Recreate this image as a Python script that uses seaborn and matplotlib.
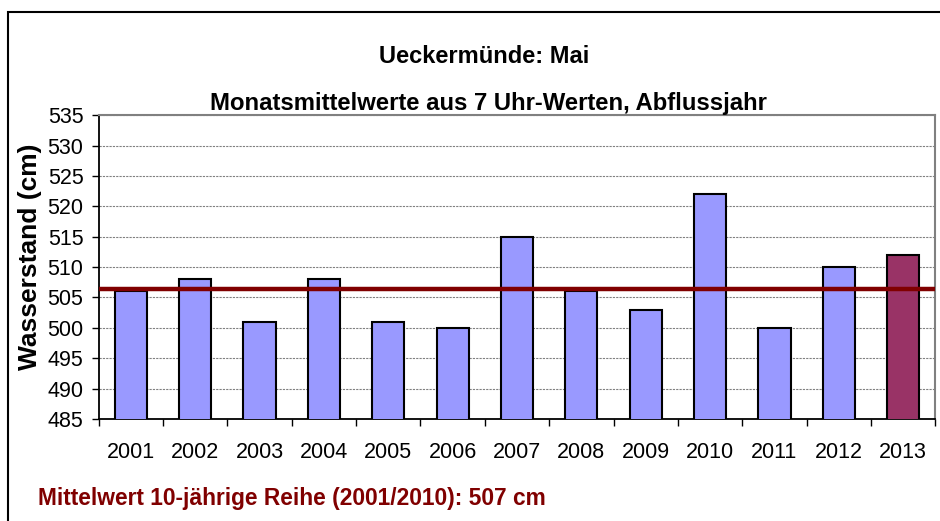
import matplotlib
matplotlib.use("Agg")
import matplotlib.pyplot as plt
import seaborn as sns
import pandas as pd
from matplotlib.ticker import MultipleLocator, FixedLocator
from matplotlib.patches import Rectangle

years = ["2001", "2002", "2003", "2004", "2005", "2006", "2007",
         "2008", "2009", "2010", "2011", "2012", "2013"]
values = [506, 508, 501, 508, 501, 500, 515, 506, 503, 522, 500, 510, 512]
groups = ["past"] * 12 + ["current"]
mean_value = 506.4
title = "Ueckermünde: Mai"
subtitle = "Monatsmittelwerte aus 7 Uhr-Werten, Abflussjahr"
ylabel = "Wasserstand (cm)"
footer = "Mittelwert 10-jährige Reihe (2001/2010): 507 cm"

sns.set_theme(style="white")
plt.rcParams["font.family"] = ["Liberation Sans", "DejaVu Sans"]
plt.rcParams["text.color"] = "black"

df = pd.DataFrame({"year": years, "value": values, "group": groups})

fig = plt.figure(figsize=(9.4, 5.21), dpi=100)
ax = fig.add_axes([0.105, 0.196, 0.89, 0.583])

sns.barplot(data=df, x="year", y="value", hue="group",
            palette={"past": "#9999FF", "current": "#993366"},
            saturation=1, dodge=False, width=0.5, edgecolor="black", linewidth=1.5,
            legend=False, ax=ax, zorder=3)

ax.axhline(mean_value, color="#800000", linewidth=3.2, zorder=4)

ax.set_ylim(485, 535)
ax.set_xlim(-0.5, 12.5)
ax.yaxis.set_major_locator(MultipleLocator(5))
ax.grid(axis="y", color="#808080", linestyle=(0, (2, 1)), linewidth=0.8, zorder=0)
ax.set_axisbelow(True)

ax.xaxis.set_minor_locator(FixedLocator([i - 0.5 for i in range(14)]))
ax.tick_params(axis="x", which="major", length=0, pad=17, labelsize=15.5, colors="black")
ax.tick_params(axis="x", which="minor", length=5, width=1, color="black", direction="out", bottom=True)
ax.tick_params(axis="y", which="major", length=5, width=1, color="black", direction="out",
               left=True, labelsize=15.5, pad=6, colors="black")

for side in ["left", "bottom"]:
    ax.spines[side].set_color("black")
    ax.spines[side].set_linewidth(1.3)
for side in ["top", "right"]:
    ax.spines[side].set_color("#808080")
    ax.spines[side].set_linewidth(1.5)

ax.set_xlabel("")
ax.set_ylabel(ylabel, fontsize=19, fontweight="bold", labelpad=2, color="black")
ax.yaxis.set_label_coords(-0.068, 0.535)

fig.text(0.515, 0.891, title, ha="center", va="center", fontsize=17, fontweight="bold", color="black")
fig.text(0.52, 0.802, subtitle, ha="center", va="center", fontsize=17.2, fontweight="bold", color="black")
fig.text(0.04, 0.044, footer, ha="left", va="center", fontsize=16.4, fontweight="bold", color="#800000")

fig.patches.append(Rectangle((0.009, -0.02), 1.1, 0.997, transform=fig.transFigure,
                             fill=False, edgecolor="black", linewidth=1.5))

fig.savefig("out.png", dpi=100)
